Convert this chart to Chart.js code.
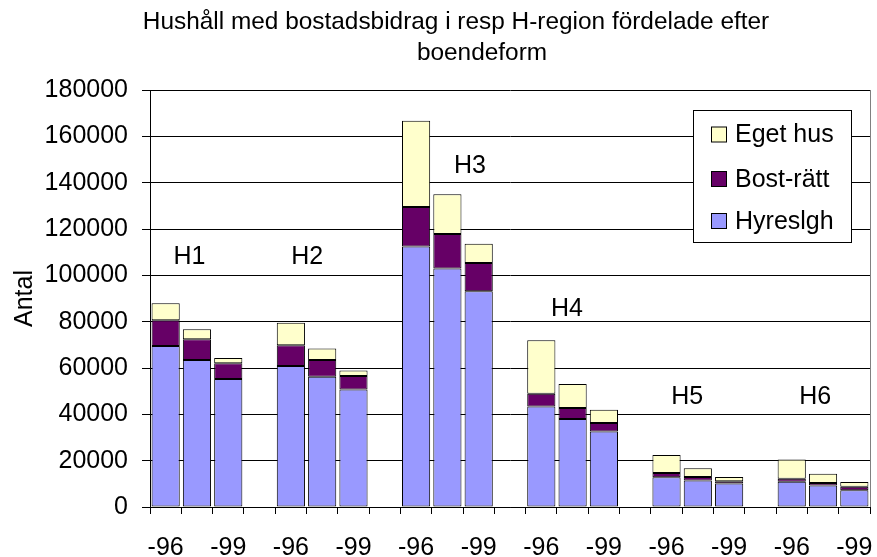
<!DOCTYPE html>
<html>
<head>
<meta charset="utf-8">
<script src="https://cdn.jsdelivr.net/npm/chart.js@4.4.1/dist/chart.umd.min.js"></script>
<style>
  body { margin: 0; background: #fff; }
  #wrap { width: 877px; height: 557px; }
</style>
</head>
<body>
<div id="wrap"><canvas id="mainChart" width="877" height="557"></canvas></div>
<script>
// regions and years (middle year label is never shown in the original)
const regions = ['H1', 'H2', 'H3', 'H4', 'H5', 'H6'];
const years = ['-96', '-98', '-99'];

// values per region, three years each
const hyreslgh = [69500, 63400, 55200, 60900, 56200, 50700, 112500, 103000, 93100,
                  43400, 38000, 32600, 12800, 11400, 10100, 10900, 9300, 7200];
const bostRatt = [11100, 9000, 6900, 8900, 7200, 5900, 17000, 14800, 12200,
                  5500, 4700, 3700, 1900, 1600, 1000, 1300, 1100, 1500];
const egetHus = [7400, 4300, 2200, 9700, 5000, 2300, 37200, 17200, 8300,
                 23100, 10400, 5700, 7800, 3700, 1900, 8300, 3900, 2100];

const yTicks = [0, 20000, 40000, 60000, 80000, 100000, 120000, 140000, 160000, 180000];

// where the H-labels sit (category position, value)
const regionLabelX = [0.76, 4.52, 9.72, 12.82, 16.66, 20.75];
const regionLabelY = [108000, 108000, 147000, 85500, 47500, 47500];

const FONT = '"Liberation Sans", Arial, sans-serif';

// build categories with an empty slot between the regions
let labels = [];
function withGaps(values) {
    let out = [];
    regions.forEach(function(r, g) {
        for (let k = 0; k < years.length; k++) out.push(values[g * years.length + k]);
        if (g < regions.length - 1) out.push(null);
    });
    return out;
}
regions.forEach(function(r, g) {
    years.forEach(function(y) { labels.push(y); });
    if (g < regions.length - 1) labels.push('');
});

const extras = {
    id: 'extras',
    afterDraw: function(chart) {
        const ctx = chart.ctx;
        const area = chart.chartArea;
        const xs = chart.scales.x;
        const ys = chart.scales.y;
        ctx.save();

        // plot area right border
        ctx.strokeStyle = '#808080';
        ctx.lineWidth = 1;
        ctx.beginPath();
        ctx.moveTo(Math.round(area.right) + 0.5, area.top);
        ctx.lineTo(Math.round(area.right) + 0.5, area.bottom);
        ctx.stroke();

        // title
        ctx.fillStyle = '#000';
        ctx.font = '24.4px ' + FONT;
        ctx.textAlign = 'center';
        ctx.textBaseline = 'alphabetic';
        ctx.fillText('Hushåll med bostadsbidrag i resp H-region fördelade efter', 456, 29);
        ctx.fillText('boendeform', 482, 60);

        // region labels
        ctx.font = '25px ' + FONT;
        ctx.textBaseline = 'middle';
        regions.forEach(function(r, i) {
            ctx.fillText(r, xs.getPixelForValue(regionLabelX[i]), ys.getPixelForValue(regionLabelY[i]));
        });

        // legend
        ctx.fillStyle = '#fff';
        ctx.fillRect(693.5, 110.5, 158, 132);
        ctx.strokeStyle = '#000';
        ctx.strokeRect(693.5, 110.5, 158, 132);
        const rows = [134.5, 179, 221];
        const order = [2, 1, 0];
        ctx.textAlign = 'left';
        order.forEach(function(di, j) {
            const ds = chart.data.datasets[di];
            ctx.fillStyle = ds.backgroundColor;
            ctx.fillRect(711.5, rows[j] - 7.5, 15, 15);
            ctx.strokeRect(711.5, rows[j] - 7.5, 15, 15);
            ctx.fillStyle = '#000';
            ctx.fillText(ds.label, 735, rows[j] + 1);
        });
        ctx.restore();
    }
};

var ctx = document.getElementById('mainChart').getContext('2d');
var mainChart = new Chart(ctx, {
    type: 'bar',
    data: {
        labels: labels,
        datasets: [{
            label: 'Hyreslgh',
            data: withGaps(hyreslgh),
            backgroundColor: '#9999FF',
            borderColor: '#000',
            borderWidth: 1,
            borderSkipped: false,
        }, {
            label: 'Bost-rätt',
            data: withGaps(bostRatt),
            backgroundColor: '#660066',
            borderColor: '#000',
            borderWidth: 1,
            borderSkipped: false,
        }, {
            label: 'Eget hus',
            data: withGaps(egetHus),
            backgroundColor: '#FFFFCC',
            borderColor: '#000',
            borderWidth: 1,
            borderSkipped: false,
        }]
    },
    options: {
        responsive: false,
        animation: false,
        barPercentage: 0.9,
        categoryPercentage: 1.0,
        layout: { padding: { top: 90, right: 7, left: 0, bottom: 0 } },
        plugins: {
            legend: { display: false },
            title: { display: false },
            tooltip: { enabled: false }
        },
        scales: {
            x: {
                stacked: true,
                grid: {
                    display: true,
                    drawOnChartArea: false,
                    drawTicks: true,
                    tickLength: 7,
                    color: '#000',
                    offset: true
                },
                border: { display: true, color: '#000' },
                ticks: {
                    autoSkip: false,
                    maxRotation: 0,
                    padding: 19,
                    color: '#000',
                    font: { family: FONT, size: 25 },
                    callback: function(value, index) {
                        return index % 2 === 0 ? labels[index] : '';
                    }
                },
                afterFit: function(scale) {
                    scale.height = 50;
                    scale.paddingLeft = 0;
                    scale.paddingRight = 0;
                }
            },
            y: {
                stacked: true,
                min: 0,
                max: 180000,
                afterBuildTicks: function(scale) {
                    scale.ticks = yTicks.map(function(v) { return { value: v }; });
                },
                grid: {
                    color: '#000',
                    tickLength: 8
                },
                border: { display: true, color: '#000' },
                ticks: {
                    padding: 14,
                    color: '#000',
                    font: { family: FONT, size: 25 },
                    callback: function(v) { return String(v); }
                },
                title: {
                    display: true,
                    text: 'Antal',
                    color: '#000',
                    font: { family: FONT, size: 25 },
                    padding: { top: 10, bottom: 0 }
                },
                afterFit: function(scale) { scale.width = 150; }
            }
        }
    },
    plugins: [extras]
});
</script>
</body>
</html>
